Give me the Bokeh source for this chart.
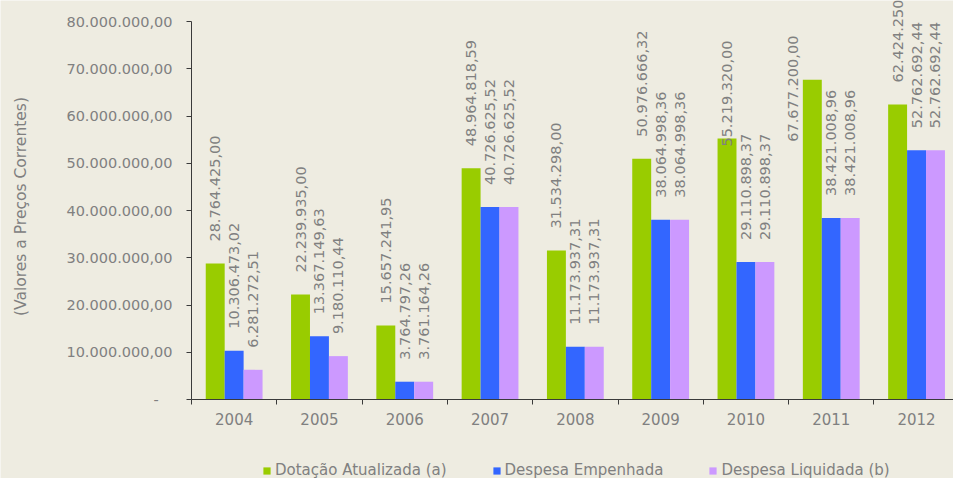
import math
from bokeh.plotting import figure
from bokeh.models import (ColumnDataSource, Range1d, FixedTicker, Legend, LegendItem, Label)
from bokeh.core.properties import value
from bokeh.embed import file_html
from bokeh.resources import INLINE

# ---- data ----
years = ["2004", "2005", "2006", "2007", "2008", "2009", "2010", "2011", "2012"]
dotacao = [28764425.00, 22239935.00, 15657241.95, 48964818.59, 31534298.00,
           50976666.32, 55219320.00, 67677200.00, 62424250.00]
empenhada = [10306473.02, 13367149.63, 3764797.26, 40726625.52, 11173937.31,
             38064998.36, 29110898.37, 38421008.96, 52762692.44]
liquidada = [6281272.51, 9180110.44, 3761164.26, 40726625.52, 11173937.31,
             38064998.36, 29110898.37, 38421008.96, 52762692.44]
series_names = ["Dotação Atualizada (a)", "Despesa Empenhada", "Despesa Liquidada (b)"]
y_title = "(Valores a Preços Correntes)"
y_ticks = [0, 10000000, 20000000, 30000000, 40000000, 50000000, 60000000, 70000000, 80000000]
y_tick_labels = ["-\u00a0\u00a0\u00a0", "10.000.000,00", "20.000.000,00", "30.000.000,00",
                 "40.000.000,00", "50.000.000,00", "60.000.000,00", "70.000.000,00",
                 "80.000.000,00"]

# ---- styles / layout ----
colors = ["#99CC00", "#3366FF", "#CC99FF"]
bg = "#EEECE1"
gray = "#808080"
axis_col = "#3a3a3a"
font = "DejaVu Sans"
bar_w = 0.222
W = 953
H = 478
PX_PER_M = 4.725          # vertical scale, pixels per million
ZERO_Y = 399              # pixel row of the zero line
PX_PER_CAT = 85.3         # horizontal scale, pixels per category
AXIS_X = 191              # pixel column of the value axis
# label screen offsets (px): default sits above bar; a few were moved in the original
label_dy = [[-22] * 9, [-22] * 9, [-22] * 9]
label_dx = [[0] * 9, [0] * 9, [0] * 9]
label_dy[0][6] = 8     # 2010 dotação label
label_dy[0][7] = 62    # 2011 dotação label
label_dx[0][7] = -19


def fmt(v):
    s = f"{v:,.2f}"
    return s.replace(",", "X").replace(".", ",").replace("X", ".")


y_lo = -(H - ZERO_Y) / PX_PER_M * 1e6
y_hi = ZERO_Y / PX_PER_M * 1e6
x_lo = -AXIS_X / PX_PER_CAT
x_hi = (W - AXIS_X) / PX_PER_CAT

p = figure(width=W, height=H,
           x_range=Range1d(x_lo, x_hi), y_range=Range1d(y_lo, y_hi),
           output_backend="svg", toolbar_location=None,
           min_border_left=0, min_border_right=0, min_border_top=0,
           min_border_bottom=0)
p.background_fill_color = bg
p.border_fill_color = bg
p.outline_line_color = None
p.xgrid.visible = False
p.ygrid.visible = False

all_series = [dotacao, empenhada, liquidada]
offsets = [-bar_w, 0.0, bar_w]
renderers = []
for k, vals in enumerate(all_series):
    xs = [i + 0.5 + offsets[k] for i in range(len(years))]
    src = ColumnDataSource(dict(x=xs, top=vals, text=[fmt(v) for v in vals],
                                dx=label_dx[k], dy=label_dy[k]))
    r = p.vbar(x="x", top="top", width=bar_w, bottom=0, source=src,
               fill_color=colors[k], line_color=None)
    renderers.append(r)
    p.text(x="x", y="top", text="text", source=src, angle=math.pi / 2,
           x_offset="dx", y_offset="dy",
           text_align="left", text_baseline="middle",
           text_font=value(font), text_font_size="14.5px", text_color=gray)

# x axis pinned at zero: labels at category centres, tick marks at boundaries
xa = p.xaxis[0]
xa.fixed_location = 0
xa.bounds = (0, len(years))
centers = [i + 0.5 for i in range(len(years))]
xa.ticker = FixedTicker(ticks=centers, minor_ticks=list(range(len(years) + 1)))
xa.major_label_overrides = {c: y for c, y in zip(centers, years)}
xa.major_tick_line_color = None
xa.major_tick_in = 0
xa.major_tick_out = 0
xa.minor_tick_line_color = axis_col
xa.minor_tick_in = 0
xa.minor_tick_out = 5
xa.axis_line_color = axis_col
xa.major_label_standoff = 8
xa.major_label_text_font = font
xa.major_label_text_font_size = "15px"
xa.major_label_text_color = gray

# y axis pinned at the first category boundary
ya = p.yaxis[0]
ya.fixed_location = 0
ya.ticker = FixedTicker(ticks=y_ticks, minor_ticks=[])
ya.major_label_overrides = {t: l for t, l in zip(y_ticks, y_tick_labels)}
ya.bounds = (0, 80000000)
ya.axis_line_color = axis_col
ya.major_tick_line_color = axis_col
ya.major_tick_in = 0
ya.major_tick_out = 5
ya.minor_tick_line_color = None
ya.major_label_standoff = 14
ya.major_label_text_font = font
ya.major_label_text_font_size = "14.5px"
ya.major_label_text_color = gray

p.add_layout(Label(x=20, y=H - 206, x_units="screen", y_units="screen",
                   text=y_title, angle=math.pi / 2,
                   text_align="center", text_baseline="middle",
                   text_font=font, text_font_size="15.5px", text_color=gray))

legend = Legend(items=[LegendItem(label=n, renderers=[r]) for n, r in zip(series_names, renderers)],
                orientation="horizontal", location=(262, -1),
                glyph_width=9, glyph_height=9, label_standoff=4, spacing=45,
                padding=0, margin=0, border_line_color=None, background_fill_alpha=0,
                label_text_font=font, label_text_font_size="15px", label_text_color=gray,
                label_height=16)
p.add_layout(legend, "center")

open("out.html", "w").write(file_html(p, INLINE))
